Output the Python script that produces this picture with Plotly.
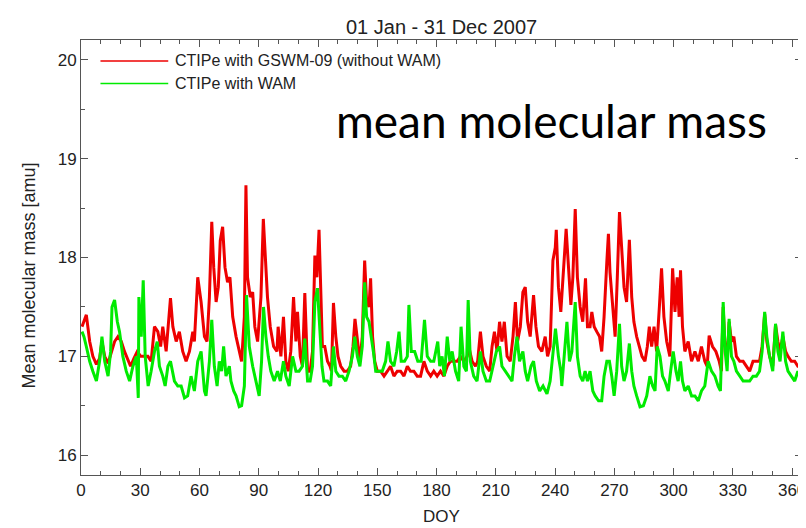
import plotly.graph_objects as go

# ---------------- data ----------------
red_days = [0.5, 1.5, 2.7, 4.4, 6.0, 7.8, 9.4, 10.6, 12.0, 13.7, 15.3, 17.0, 18.7, 20.4, 22.0, 23.8, 25.1, 26.8, 28.5, 30.2,
            31.8, 33.9, 35.5, 37.2, 38.9, 40.3, 41.4, 43.1, 45.3, 46.5, 48.2, 49.8, 51.5, 53.2, 54.9, 56.6, 57.4, 59.1, 60.8, 62.5,
            63.8, 65.0, 66.2, 67.2, 68.4, 69.5, 70.5, 71.7, 72.9, 74.2, 75.4, 76.8, 78.5, 80.1, 81.3, 82.7, 83.5, 84.3, 85.7, 86.9,
            88.0, 89.4, 91.1, 92.3, 93.3, 94.4, 95.8, 97.5, 99.2, 99.8, 101.2, 102.5, 103.7, 104.9, 106.2, 107.6, 108.8, 109.6, 111.0, 112.1,
            113.3, 114.7, 116.0, 117.2, 118.4, 119.4, 120.5, 121.4, 122.2, 123.4, 124.8, 126.1, 126.8, 127.8, 129.0, 130.1, 131.5, 133.2, 134.8, 136.5,
            137.7, 138.7, 139.9, 141.2, 142.4, 143.6, 144.6, 145.8, 146.6, 147.6, 148.7, 150.0, 151.7, 153.4, 155.1, 156.7, 158.4, 160.1, 161.8, 163.5,
            165.2, 166.8, 168.5, 170.2, 171.9, 173.6, 175.3, 177.0, 178.6, 180.3, 182.0, 183.7, 185.4, 187.0, 188.7, 190.4, 192.1, 193.8, 195.5, 196.3,
            198.0, 199.7, 200.8, 202.2, 203.5, 205.2, 206.9, 208.1, 209.3, 210.6, 211.9, 213.1, 214.3, 215.7, 217.3, 218.7, 219.9, 221.0, 222.4, 223.7,
            224.9, 226.1, 227.4, 229.1, 230.3, 231.6, 233.3, 235.0, 236.2, 237.5, 238.9, 240.1, 240.6, 241.7, 242.9, 244.6, 245.6, 246.8, 248.0, 249.0,
            250.2, 251.3, 252.7, 254.0, 255.4, 256.4, 257.7, 258.6, 259.8, 261.1, 262.5, 263.6, 264.8, 266.2, 267.0, 267.8, 269.2, 270.4, 271.5, 272.6,
            273.7, 274.9, 276.2, 277.6, 278.8, 279.9, 281.3, 282.6, 284.0, 285.5, 286.7, 287.7, 288.9, 290.1, 291.4, 292.8, 293.9, 295.1, 296.5, 298.1,
            299.5, 300.7, 301.8, 302.8, 303.5, 304.5, 305.7, 307.4, 309.1, 310.8, 312.5, 314.1, 315.8, 317.0, 318.0, 319.7, 321.4, 323.1, 324.2, 325.1,
            325.9, 327.1, 328.1, 329.3, 330.5, 331.8, 333.5, 335.2, 336.8, 338.5, 340.2, 341.9, 343.5, 344.8, 346.1, 347.2, 348.6, 350.2, 351.6, 352.8,
            353.9, 355.3, 356.7, 357.9, 359.6, 361.3, 362.9, 364.6]
red_mass = [17.30, 17.35, 17.42, 17.15, 17.00, 16.92, 16.98, 17.15, 17.00, 16.93, 17.05, 17.15, 17.20, 17.15, 17.05, 16.95, 16.90, 16.98, 17.05, 17.00,
            17.00, 17.00, 16.95, 17.30, 17.25, 17.10, 17.30, 17.05, 17.59, 17.30, 17.15, 17.25, 17.05, 16.95, 17.05, 17.25, 17.15, 17.80, 17.55, 17.20,
            17.15, 17.60, 18.36, 17.90, 17.55, 17.70, 18.17, 18.31, 17.90, 17.75, 17.80, 17.40, 17.20, 17.05, 16.95, 17.40, 18.73, 17.80, 17.60, 17.65,
            17.30, 17.15, 17.60, 18.39, 18.00, 17.60, 17.30, 17.10, 17.05, 17.30, 17.00, 17.40, 16.95, 16.85, 17.05, 17.60, 17.15, 17.45, 17.00, 16.90,
            17.64, 16.85, 16.85, 17.05, 18.02, 17.80, 18.28, 17.60, 17.10, 17.10, 16.95, 16.90, 16.85, 17.54, 17.20, 17.00, 16.90, 16.85, 16.85, 16.90,
            17.10, 17.38, 17.15, 16.95, 17.20, 17.97, 17.55, 17.50, 17.79, 17.20, 16.95, 16.85, 16.85, 16.80, 16.85, 16.90, 16.80, 16.85, 16.85, 16.80,
            16.90, 16.85, 16.85, 16.80, 16.80, 16.95, 16.85, 16.80, 16.85, 16.80, 16.85, 16.80, 16.90, 16.95, 16.95, 16.95, 17.00, 16.95, 17.00, 17.10,
            16.95, 16.90, 16.95, 17.25, 17.00, 16.90, 16.85, 17.10, 17.25, 17.05, 17.35, 17.15, 17.35, 17.00, 16.95, 17.20, 17.55, 17.15, 17.30, 17.65,
            17.70, 17.35, 17.20, 17.62, 17.30, 17.10, 17.05, 17.20, 17.00, 17.10, 17.97, 18.10, 18.28, 17.70, 17.45, 17.95, 18.29, 17.90, 17.52, 17.80,
            18.49, 17.80, 17.50, 17.35, 17.79, 17.30, 17.30, 17.45, 17.30, 17.25, 17.20, 17.05, 17.40, 17.96, 18.24, 17.85, 17.50, 17.20, 17.80, 18.46,
            18.10, 17.70, 17.55, 18.18, 17.60, 17.35, 17.20, 17.10, 17.00, 16.95, 17.10, 17.30, 17.10, 17.30, 17.05, 17.50, 17.89, 17.40, 17.15, 17.00,
            17.89, 17.45, 17.80, 17.40, 17.87, 17.30, 17.05, 17.15, 16.95, 17.05, 16.95, 17.10, 16.95, 16.90, 17.21, 17.10, 17.05, 16.95, 16.85, 17.50,
            17.15, 16.95, 17.35, 17.15, 17.20, 17.00, 16.95, 16.95, 16.90, 16.85, 16.95, 16.95, 16.95, 17.10, 17.43, 17.15, 17.00, 16.90, 17.32, 17.15,
            17.05, 17.20, 17.05, 17.00, 16.95, 16.95, 16.90, 16.90]

green_days = [0.5, 1.5, 2.7, 4.4, 6.0, 7.8, 9.4, 10.6, 12.0, 13.7, 15.0, 15.7, 17.0, 18.4, 19.5, 21.2, 22.9, 24.6, 26.3, 28.0,
              29.0, 29.3, 30.5, 31.5, 32.5, 34.0, 35.5, 37.2, 38.6, 39.7, 41.4, 42.6, 44.0, 45.3, 47.3, 49.0, 50.7, 52.4, 54.0, 55.7,
              57.4, 59.1, 60.8, 62.5, 63.3, 65.0, 66.2, 67.5, 68.9, 70.0, 71.2, 72.2, 73.4, 75.1, 75.9, 77.3, 78.5, 80.1, 81.3, 82.7,
              83.8, 85.2, 86.9, 88.6, 90.2, 91.4, 92.4, 93.6, 94.8, 96.1, 97.8, 99.5, 100.9, 102.5, 103.7, 105.4, 107.1, 108.8, 110.4, 112.1,
              113.3, 114.7, 116.0, 117.2, 118.4, 119.7, 121.0, 122.0, 123.0, 124.8, 126.4, 127.8, 129.0, 130.6, 132.3, 134.0, 135.7, 137.4, 138.6, 139.9,
              141.2, 142.4, 143.6, 144.6, 145.8, 147.0, 148.0, 149.2, 150.8, 152.5, 154.2, 155.4, 156.7, 158.4, 159.8, 161.0, 162.1, 163.8, 165.2, 166.0,
              167.2, 168.9, 170.5, 172.2, 173.9, 175.3, 177.0, 178.6, 180.6, 181.6, 182.8, 184.0, 185.4, 186.7, 187.9, 189.6, 191.2, 192.4, 193.8, 195.1,
              196.0, 197.1, 198.8, 200.5, 202.2, 203.5, 205.2, 206.9, 208.6, 210.3, 211.9, 213.1, 214.8, 216.5, 218.2, 219.4, 220.7, 222.0, 223.7, 224.9,
              226.1, 227.8, 229.1, 230.5, 232.2, 233.9, 235.9, 237.5, 239.2, 240.2, 241.7, 242.9, 243.4, 244.6, 246.0, 247.3, 248.5, 250.2, 251.3, 252.7,
              254.0, 255.2, 256.4, 257.7, 259.1, 260.3, 262.0, 263.6, 264.8, 266.2, 267.5, 268.7, 269.9, 271.2, 272.6, 273.7, 274.9, 276.2, 277.6, 278.8,
              279.9, 281.3, 283.0, 284.7, 286.4, 288.0, 289.4, 290.6, 291.7, 293.1, 294.4, 295.6, 297.3, 298.5, 299.8, 301.2, 302.3, 303.5, 304.5, 305.7,
              307.4, 309.1, 310.8, 312.5, 314.1, 315.8, 317.5, 319.2, 320.9, 322.5, 323.7, 325.1, 326.1, 327.1, 328.1, 329.3, 330.5, 331.8, 333.5, 335.2,
              336.8, 338.5, 340.2, 341.9, 343.5, 344.8, 346.1, 347.2, 348.6, 350.2, 351.6, 352.8, 353.9, 355.3, 356.7, 357.9, 359.6, 361.3, 362.9, 364.6]
green_mass = [17.25, 17.20, 17.10, 16.95, 16.85, 16.75, 16.95, 17.20, 16.95, 16.80, 17.05, 17.50, 17.57, 17.35, 17.25, 17.00, 16.85, 16.75, 16.90, 17.00,
              16.58, 17.60, 17.20, 17.77, 17.00, 16.70, 16.85, 17.05, 17.15, 16.90, 16.80, 16.70, 16.90, 16.95, 16.75, 16.70, 16.70, 16.58, 16.60, 16.80,
              16.65, 16.95, 17.05, 16.65, 16.60, 16.95, 17.37, 16.90, 16.70, 16.95, 16.85, 17.10, 16.80, 16.90, 16.75, 16.65, 16.60, 16.49, 16.50, 16.70,
              17.62, 17.10, 16.90, 16.75, 16.60, 16.95, 17.50, 17.20, 17.00, 16.85, 16.75, 16.85, 16.75, 16.95, 16.80, 16.70, 17.00, 16.85, 16.85, 16.90,
              17.18, 16.75, 16.75, 16.90, 17.55, 17.69, 17.20, 16.90, 16.75, 16.75, 16.70, 17.10, 16.85, 16.80, 16.80, 16.75, 16.85, 17.00, 17.20, 17.00,
              16.90, 17.10, 17.75, 17.40, 17.35, 17.20, 17.05, 16.85, 16.85, 16.85, 16.95, 17.15, 16.95, 16.90, 17.05, 17.25, 16.95, 16.95, 17.00, 17.52,
              17.05, 17.05, 16.95, 16.95, 17.37, 17.00, 16.95, 16.95, 17.15, 16.90, 17.00, 16.80, 17.20, 16.95, 17.05, 16.85, 16.75, 17.30, 16.90, 16.85,
              17.57, 16.95, 16.80, 16.75, 17.05, 16.85, 16.75, 16.75, 16.90, 17.05, 17.10, 16.90, 16.85, 16.80, 16.75, 17.00, 17.20, 16.95, 17.05, 16.85,
              16.75, 16.90, 16.95, 16.75, 16.65, 16.70, 16.62, 16.75, 17.05, 17.28, 17.00, 16.85, 16.70, 17.05, 17.35, 16.95, 17.05, 17.55, 17.00, 16.80,
              16.75, 16.85, 16.75, 16.85, 16.65, 16.60, 16.55, 16.55, 16.80, 16.95, 16.95, 16.80, 16.60, 16.85, 17.33, 16.90, 16.75, 16.85, 17.13, 16.85,
              16.70, 16.60, 16.49, 16.50, 16.60, 16.80, 16.70, 16.65, 17.10, 17.00, 16.80, 16.75, 16.65, 16.85, 17.05, 16.85, 16.75, 16.95, 16.75, 16.65,
              16.70, 16.60, 16.60, 16.55, 16.65, 16.70, 16.95, 16.85, 16.80, 16.70, 16.65, 17.55, 17.05, 16.85, 17.38, 17.00, 16.95, 16.85, 16.80, 16.75,
              16.75, 16.75, 16.80, 16.80, 16.85, 17.05, 17.45, 17.20, 17.00, 16.85, 17.33, 17.05, 16.95, 17.25, 16.95, 16.85, 16.80, 16.75, 16.85, 16.75]

series_names = ["CTIPe with GSWM-09 (without WAM)", "CTIPe with WAM"]
x_ticks = [0, 30, 60, 90, 120, 150, 180, 210, 240, 270, 300, 330, 360]
y_ticks = [16, 17, 18, 19, 20]

# ---------------- styling ----------------
RED = "rgb(238,0,0)"
GREEN = "rgb(0,235,0)"
AX = "#555555"
FONT = "Liberation Sans, Arial, sans-serif"
TXT = "#222222"

fig = go.Figure()
fig.add_trace(go.Scatter(x=red_days, y=red_mass, mode="lines", name=series_names[0],
                         line=dict(color=RED, width=3), showlegend=False))
fig.add_trace(go.Scatter(x=green_days, y=green_mass, mode="lines", name=series_names[1],
                         line=dict(color=GREEN, width=3), showlegend=False))

axis_common = dict(showline=True, linecolor=AX, linewidth=1, mirror="ticks", ticks="inside",
                   tickcolor=AX, showgrid=False, zeroline=False,
                   tickfont=dict(family=FONT, size=17, color=TXT))

fig.update_xaxes(range=[0, 365], tickvals=x_ticks, ticklen=7,
                 minor=dict(dtick=10, tick0=0, ticks="inside", ticklen=4, tickcolor=AX),
                 **axis_common)
fig.update_yaxes(range=[15.8, 20.2], tickvals=y_ticks, ticklen=7,
                 minor=dict(dtick=0.5, tick0=0, ticks="inside", ticklen=4, tickcolor=AX),
                 **axis_common)

# legend drawn as shapes + text (styling only)
legend_rows = [(0.952, RED), (0.900, GREEN)]
for (yy, col), name in zip(legend_rows, series_names):
    fig.add_shape(type="line", xref="paper", yref="paper", x0=0.027, x1=0.121, y0=yy, y1=yy,
                  line=dict(color=col, width=1.5))
    fig.add_annotation(xref="paper", yref="paper", x=0.128, y=yy, text=name, showarrow=False,
                       xanchor="left", yanchor="middle",
                       font=dict(family=FONT, size=16, color=TXT))

fig.add_annotation(xref="paper", yref="paper", x=0.5, y=1.0, yshift=13, text="01 Jan - 31 Dec 2007",
                   showarrow=False, xanchor="center", yanchor="middle",
                   font=dict(family=FONT, size=20, color=TXT))
fig.add_annotation(xref="paper", yref="paper", x=0.5, y=0, yshift=-41, text="DOY",
                   showarrow=False, xanchor="center", yanchor="middle",
                   font=dict(family=FONT, size=17, color=TXT))
fig.add_annotation(xref="paper", yref="paper", x=0, xshift=-53, y=0.5, yshift=-18,
                   text="Mean molecular mass [amu]", textangle=-90,
                   showarrow=False, xanchor="center", yanchor="middle",
                   font=dict(family=FONT, size=18, color=TXT))
fig.add_annotation(xref="paper", yref="paper", x=0.9545, y=0.816, text="mean molecular mass",
                   showarrow=False, xanchor="right", yanchor="middle",
                   font=dict(family="Lato, Carlito, sans-serif", size=46, color="#000"))

fig.update_layout(width=806, height=528, margin=dict(l=73, r=8, t=32, b=61),
                  paper_bgcolor="white", plot_bgcolor="white")

fig.write_html("out.html")
